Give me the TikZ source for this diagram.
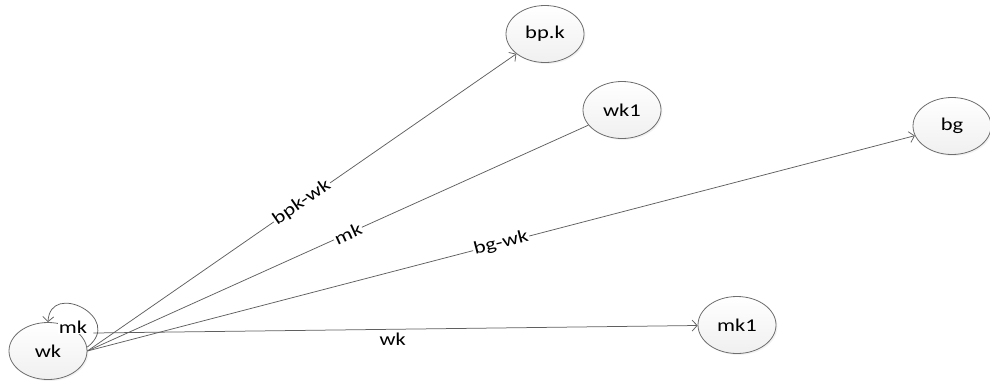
\documentclass[tikz,border=0pt]{standalone}
\usepackage{fontspec}
\newfontfamily\diafont{Carlito}[FakeStretch=1.25]
\usetikzlibrary{arrows.meta,shapes.geometric,shadows,calc}
\definecolor{edgegray}{HTML}{5F5F5F}
\definecolor{bordergray}{HTML}{6E6E6E}
\begin{document}
\begin{tikzpicture}[x=1pt,y=-1pt,
  state/.style={ellipse, draw=bordergray, line width=0.8pt,
    top color=white, bottom color=black!6,
    minimum width=78pt, minimum height=57pt, inner sep=0pt,
    font=\diafont\fontsize{18}{20}\selectfont,
    drop shadow={opacity=0.10, shadow xshift=1.5pt, shadow yshift=-1.5pt}},
  link/.style={draw=edgegray, line width=0.75pt,
    -{Straight Barb[length=5pt,width=11pt]}},
  plainlink/.style={draw=edgegray, line width=0.75pt},
  lbl/.style={fill=white, inner sep=1pt, sloped,
    font=\diafont\fontsize{18}{20}\selectfont}]
\useasboundingbox (0,0) rectangle (990,384);

\node[state] (wk)  at (48,351)  {wk};
\node[state] (bpk) at (545,34)  {bp.k};
\node[state] (wk1) at (622,110) {wk1};
\node[state] (bg)  at (952,126) {bg};
\node[state] (mk1) at (737,325) {mk1};

\draw[link] (wk.east) -- (bpk) node[lbl, pos=0.5] {bpk-wk};
\draw[plainlink] (wk1) -- (wk.east) node[lbl, pos=0.48] {mk};
\draw[link] (wk.east) -- (bg) node[lbl, pos=0.5] {bg-wk};
\draw[link] ([xshift=6pt,yshift=18pt]wk.east) -- (mk1)
  node[lbl, pos=0.495, yshift=-10pt] {wk};
\draw[link] ([yshift=4pt]wk.east)
  .. controls ($(wk.north)+(77,-4)$) and ($(wk.north)+(2,-42)$) .. (wk.north);
\node[fill=white, inner sep=0.5pt, font=\diafont\fontsize{18}{20}\selectfont]
  (loopmk) at ($(wk.north)+(25,5)$) {mk};
\end{tikzpicture}
\end{document}
